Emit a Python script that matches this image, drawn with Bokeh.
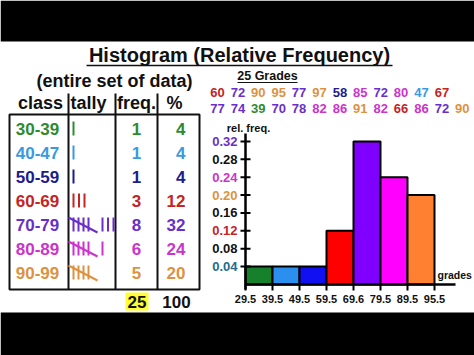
from bokeh.plotting import figure
from bokeh.models import Range1d
from bokeh.core.properties import value
from bokeh.embed import file_html
from bokeh.resources import INLINE

# ---------------- data ----------------
classes = ["30-39", "40-47", "50-59", "60-69", "70-79", "80-89", "90-99"]
class_lo = [30, 40, 50, 60, 70, 80, 90]
class_hi = [39, 47, 59, 69, 79, 89, 99]
freq = [1, 1, 1, 3, 8, 6, 5]
percent = [4, 4, 4, 12, 32, 24, 20]
rel_freq = [0.04, 0.04, 0.04, 0.12, 0.32, 0.24, 0.20]
boundaries = ["29.5", "39.5", "49.5", "59.5", "69.6", "79.5", "89.5", "95.5"]
grades_row1 = [60, 72, 90, 95, 77, 97, 58, 85, 72, 80, 47, 67]
grades_row2 = [77, 74, 39, 70, 78, 82, 86, 91, 82, 66, 86, 72, 90]
y_ticks = [0.04, 0.08, 0.12, 0.16, 0.20, 0.24, 0.28, 0.32]
y_tick_labels = ["0.04", "0.08", "0.12", "0.16", "0.20", "0.24", "0.28", "0.32"]
total_freq = "25"
total_percent = "100"

# ---------------- styles ----------------
class_colors = ["#2e8b2e", "#3a9ae0", "#1c1c8c", "#c42424", "#6a2fc8", "#cc33cc", "#dd9240"]
bar_colors = ["#16802a", "#2b8ff0", "#1010f0", "#ff0000", "#8000ff", "#ff00ff", "#ff8030"]
y_tick_colors = ["#226c8c", "#111111", "#c42424", "#111111", "#dd9240", "#cc33cc", "#111111", "#6a2fc8"]
INK = "#111111"
SANS = value("Liberation Sans")

W, H = 474, 355
HX0, BIN = 245, 27        # pixel of first class edge, pixels per class
BASE, PPU = 284, 447      # baseline pixel (from top), pixels per unit of rel. freq.

p = figure(width=W, height=H, output_backend="svg", toolbar_location=None,
           x_range=Range1d(-HX0 / BIN, (W - HX0) / BIN),
           y_range=Range1d(-(H - BASE) / PPU, BASE / PPU),
           x_axis_location=None, y_axis_location=None, min_border=0)
p.grid.visible = False
p.outline_line_color = None
p.background_fill_color = "white"
p.extra_x_ranges = {"px": Range1d(0, W)}
p.extra_y_ranges = {"py": Range1d(H, 0)}
PG = dict(x_range_name="px", y_range_name="py")
TXT = dict(text_font=SANS, text_font_style="bold", text_baseline="middle")

# letterbox bands
p.quad(left=[0, 0], right=[W, W], top=[0, 312], bottom=[41, H],
       fill_color="black", line_color=None, **PG)

# title
p.text(x=[239], y=[54], text=["Histogram (Relative Frequency)"], text_font_size="20px",
       text_align="center", text_color=INK, **TXT, **PG)
p.segment(x0=[86], y0=[65], x1=[392], y1=[65], line_color=INK, line_width=1.5, **PG)
p.text(x=[114], y=[80], text=["(entire set of data)"], text_font_size="18px",
       text_align="center", text_color=INK, **TXT, **PG)

# ---------------- table ----------------
ROW0, ROWH = 128, 24
rows_y = [ROW0 + i * ROWH for i in range(len(classes))]
p.text(x=[40, 88, 136, 174], y=[102] * 4, text=["class", "tally", "freq.", "%"],
       text_font_size="18px", text_align="center", text_color=INK, **TXT, **PG)
p.quad(left=[9], right=[199], top=[114], bottom=[289], fill_color=None,
       line_color=INK, line_width=2, **PG)
p.segment(x0=[68, 115, 157], y0=[93] * 3, x1=[68, 115, 157], y1=[289] * 3,
          line_color=INK, line_width=2, **PG)
p.text(x=[37] * 7, y=rows_y, text=classes, text_color=class_colors,
       text_font_size="17px", text_align="center", **TXT, **PG)
p.text(x=[136] * 7, y=rows_y, text=[str(f) for f in freq], text_color=class_colors,
       text_font_size="17px", text_align="center", **TXT, **PG)
p.text(x=[185] * 7, y=rows_y, text=[str(v) for v in percent], text_color=class_colors,
       text_font_size="17px", text_align="right", **TXT, **PG)

# tally marks built from the frequencies
tx0, ty0, tx1, ty1, tc = [], [], [], [], []
for r, n in enumerate(freq):
    yc = rows_y[r]
    x = 73
    groups, rem = divmod(n, 5)
    for g in range(groups):
        for k in range(4):
            tx0.append(x + k * 5); ty0.append(yc - 7)
            tx1.append(x + k * 5); ty1.append(yc + 7); tc.append(class_colors[r])
        tx0.append(x - 5); ty0.append(yc - 7)
        tx1.append(x + 24); ty1.append(yc + 8); tc.append(class_colors[r])
        x += 29
    for k in range(rem):
        tx0.append(x + k * 5.5); ty0.append(yc - 7)
        tx1.append(x + k * 5.5); ty1.append(yc + 7); tc.append(class_colors[r])
p.segment(x0=tx0, y0=ty0, x1=tx1, y1=ty1, line_color=tc, line_width=2, **PG)

# totals
p.quad(left=[125], right=[148], top=[292], bottom=[310], fill_color="#ffff33",
       line_color=None, **PG)
p.text(x=[136.5, 176], y=[301, 301], text=[total_freq, total_percent], text_color=INK,
       text_font_size="17px", text_align="center", **TXT, **PG)

# ---------------- grades ----------------
def grade_color(g):
    for lo, hi, c in zip(class_lo, class_hi, class_colors):
        if lo <= g <= hi:
            return c
    return INK

p.text(x=[267], y=[75], text=["25 Grades"], text_font_size="12.5px",
       text_align="center", text_color=INK, **TXT, **PG)
p.segment(x0=[237], y0=[82], x1=[297], y1=[82], line_color=INK, line_width=1.2, **PG)
for row, yy in ((grades_row1, 92), (grades_row2, 108)):
    p.text(x=[217 + i * 20.4 for i in range(len(row))], y=[yy] * len(row),
           text=[str(g) for g in row], text_color=[grade_color(g) for g in row],
           text_font_size="13px", text_align="center", **TXT, **PG)

# ---------------- histogram ----------------
idx = list(range(len(rel_freq)))
p.quad(left=idx, right=[i + 1 for i in idx], bottom=[0] * len(idx), top=rel_freq,
       fill_color=bar_colors, line_color="black", line_width=2)

# axes drawn through the data scales
AX_TOP = (BASE - 133) / PPU
X_END = (455 - HX0) / BIN
p.segment(x0=[0], y0=[-5 / PPU], x1=[0], y1=[AX_TOP], line_color="black", line_width=2.5)
p.segment(x0=[0], y0=[0], x1=[X_END], y1=[0], line_color="black", line_width=2.5)
edges = list(range(len(boundaries)))
p.segment(x0=edges, y0=[0] * len(edges), x1=edges, y1=[-6 / PPU] * len(edges),
          line_color="black", line_width=2)
p.segment(x0=[-5 / BIN] * len(y_ticks), y0=y_ticks, x1=[5 / BIN] * len(y_ticks),
          y1=y_ticks, line_color="black", line_width=2)
p.text(x=[-8 / BIN] * len(y_ticks), y=y_ticks, text=y_tick_labels, text_color=y_tick_colors,
       text_font_size="13px", text_align="right", **TXT)
p.text(x=edges, y=[-14 / PPU] * len(edges), text=boundaries, text_color=INK,
       text_font_size="11px", text_align="center", **TXT)
p.text(x=[248], y=[127], text=["rel. freq."], text_font_size="11px",
       text_align="center", text_color=INK, **TXT, **PG)
p.text(x=[437], y=[274], text=["grades"], text_font_size="10.5px",
       text_align="left", text_color=INK, **TXT, **PG)

open("out.html", "w").write(file_html(p, INLINE))
